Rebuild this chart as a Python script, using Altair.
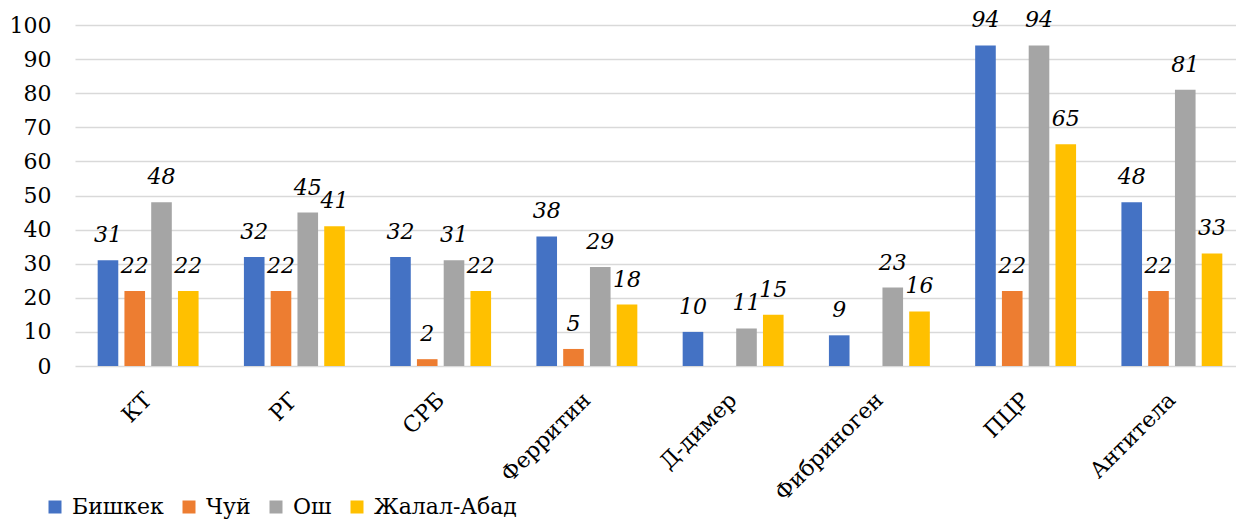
import altair as alt
import pandas as pd

# Test categories (x axis) and regions (series)
categories = ["КТ", "РГ", "СРБ", "Ферритин", "Д-димер", "Фибриноген", "ПЦР", "Антитела"]
regions = ["Бишкек", "Чуй", "Ош", "Жалал-Абад"]
colors = ["#4472C4", "#ED7D31", "#A5A5A5", "#FFC000"]

# Values per region, in category order (None = no value reported)
bishkek = [31, 32, 32, 38, 10, 9, 94, 48]
chuy = [22, 22, 2, 5, None, None, 22, 22]
osh = [48, 45, 31, 29, 11, 23, 94, 81]
jalal_abad = [22, 41, 22, 18, 15, 16, 65, 33]

y_ticks = list(range(0, 101, 10))

rows = []
for region, values in zip(regions, [bishkek, chuy, osh, jalal_abad]):
    for cat, v in zip(categories, values):
        if v is not None:
            rows.append({"cat": cat, "region": region, "value": v})
df = pd.DataFrame(rows)

FONT = "DejaVu Serif"
FS = 22

x_enc = alt.X(
    "cat:N",
    sort=categories,
    title=None,
    scale=alt.Scale(range=[0, 1170], paddingInner=0.31, paddingOuter=0.155),
    axis=alt.Axis(
        labelAngle=-45,
        labelAlign="right",
        labelBaseline="middle",
        labelPadding=30,
        labelFontSize=FS,
        labelColor="#000000",
        labelLimit=300,
        ticks=False,
        domain=False,
        grid=False,
    ),
)
xoff_enc = alt.XOffset("region:N", sort=regions, scale=alt.Scale(paddingInner=0.23, paddingOuter=0))
y_enc = alt.Y(
    "value:Q",
    title=None,
    scale=alt.Scale(domain=[0, 100], nice=False),
    axis=alt.Axis(
        values=y_ticks,
        labelFontSize=FS,
        labelColor="#000000",
        labelPadding=24,
        ticks=False,
        domain=False,
        grid=True,
        gridColor="#D9D9D9",
        gridWidth=1.5,
    ),
)

base = alt.Chart(df).encode(x=x_enc, xOffset=xoff_enc, y=y_enc)

bars = base.mark_bar().encode(
    color=alt.Color(
        "region:N",
        sort=regions,
        scale=alt.Scale(domain=regions, range=colors),
        legend=alt.Legend(
            title=None,
            orient="none",
            legendX=-31,
            legendY=471,
            direction="horizontal",
            symbolType="square",
            symbolSize=169,
            symbolStrokeWidth=0,
            symbolOpacity=1,
            labelFontSize=FS,
            labelColor="#000000",
            labelLimit=300,
            labelOffset=6,
            columnPadding=14,
        ),
    ),
)

labels = base.mark_text(
    fontSize=FS,
    fontStyle="italic",
    baseline="alphabetic",
    align="center",
    dy=-18,
    color="#000000",
).encode(text="value:Q")

chart = (
    alt.layer(bars, labels)
    .properties(
        width=1161,
        height=341,
        autosize=alt.AutoSizeParams(type="none"),
        padding={"left": 75, "top": 25, "right": 0, "bottom": 155},
        background="#FFFFFF",
    )
    .configure(font=FONT)
    .configure_axis(labelFont=FONT)
    .configure_legend(labelFont=FONT)
    .configure_text(font=FONT)
    .configure_view(stroke=None)
)

chart.save("out.html", embed_options={"renderer": "svg", "actions": False})
